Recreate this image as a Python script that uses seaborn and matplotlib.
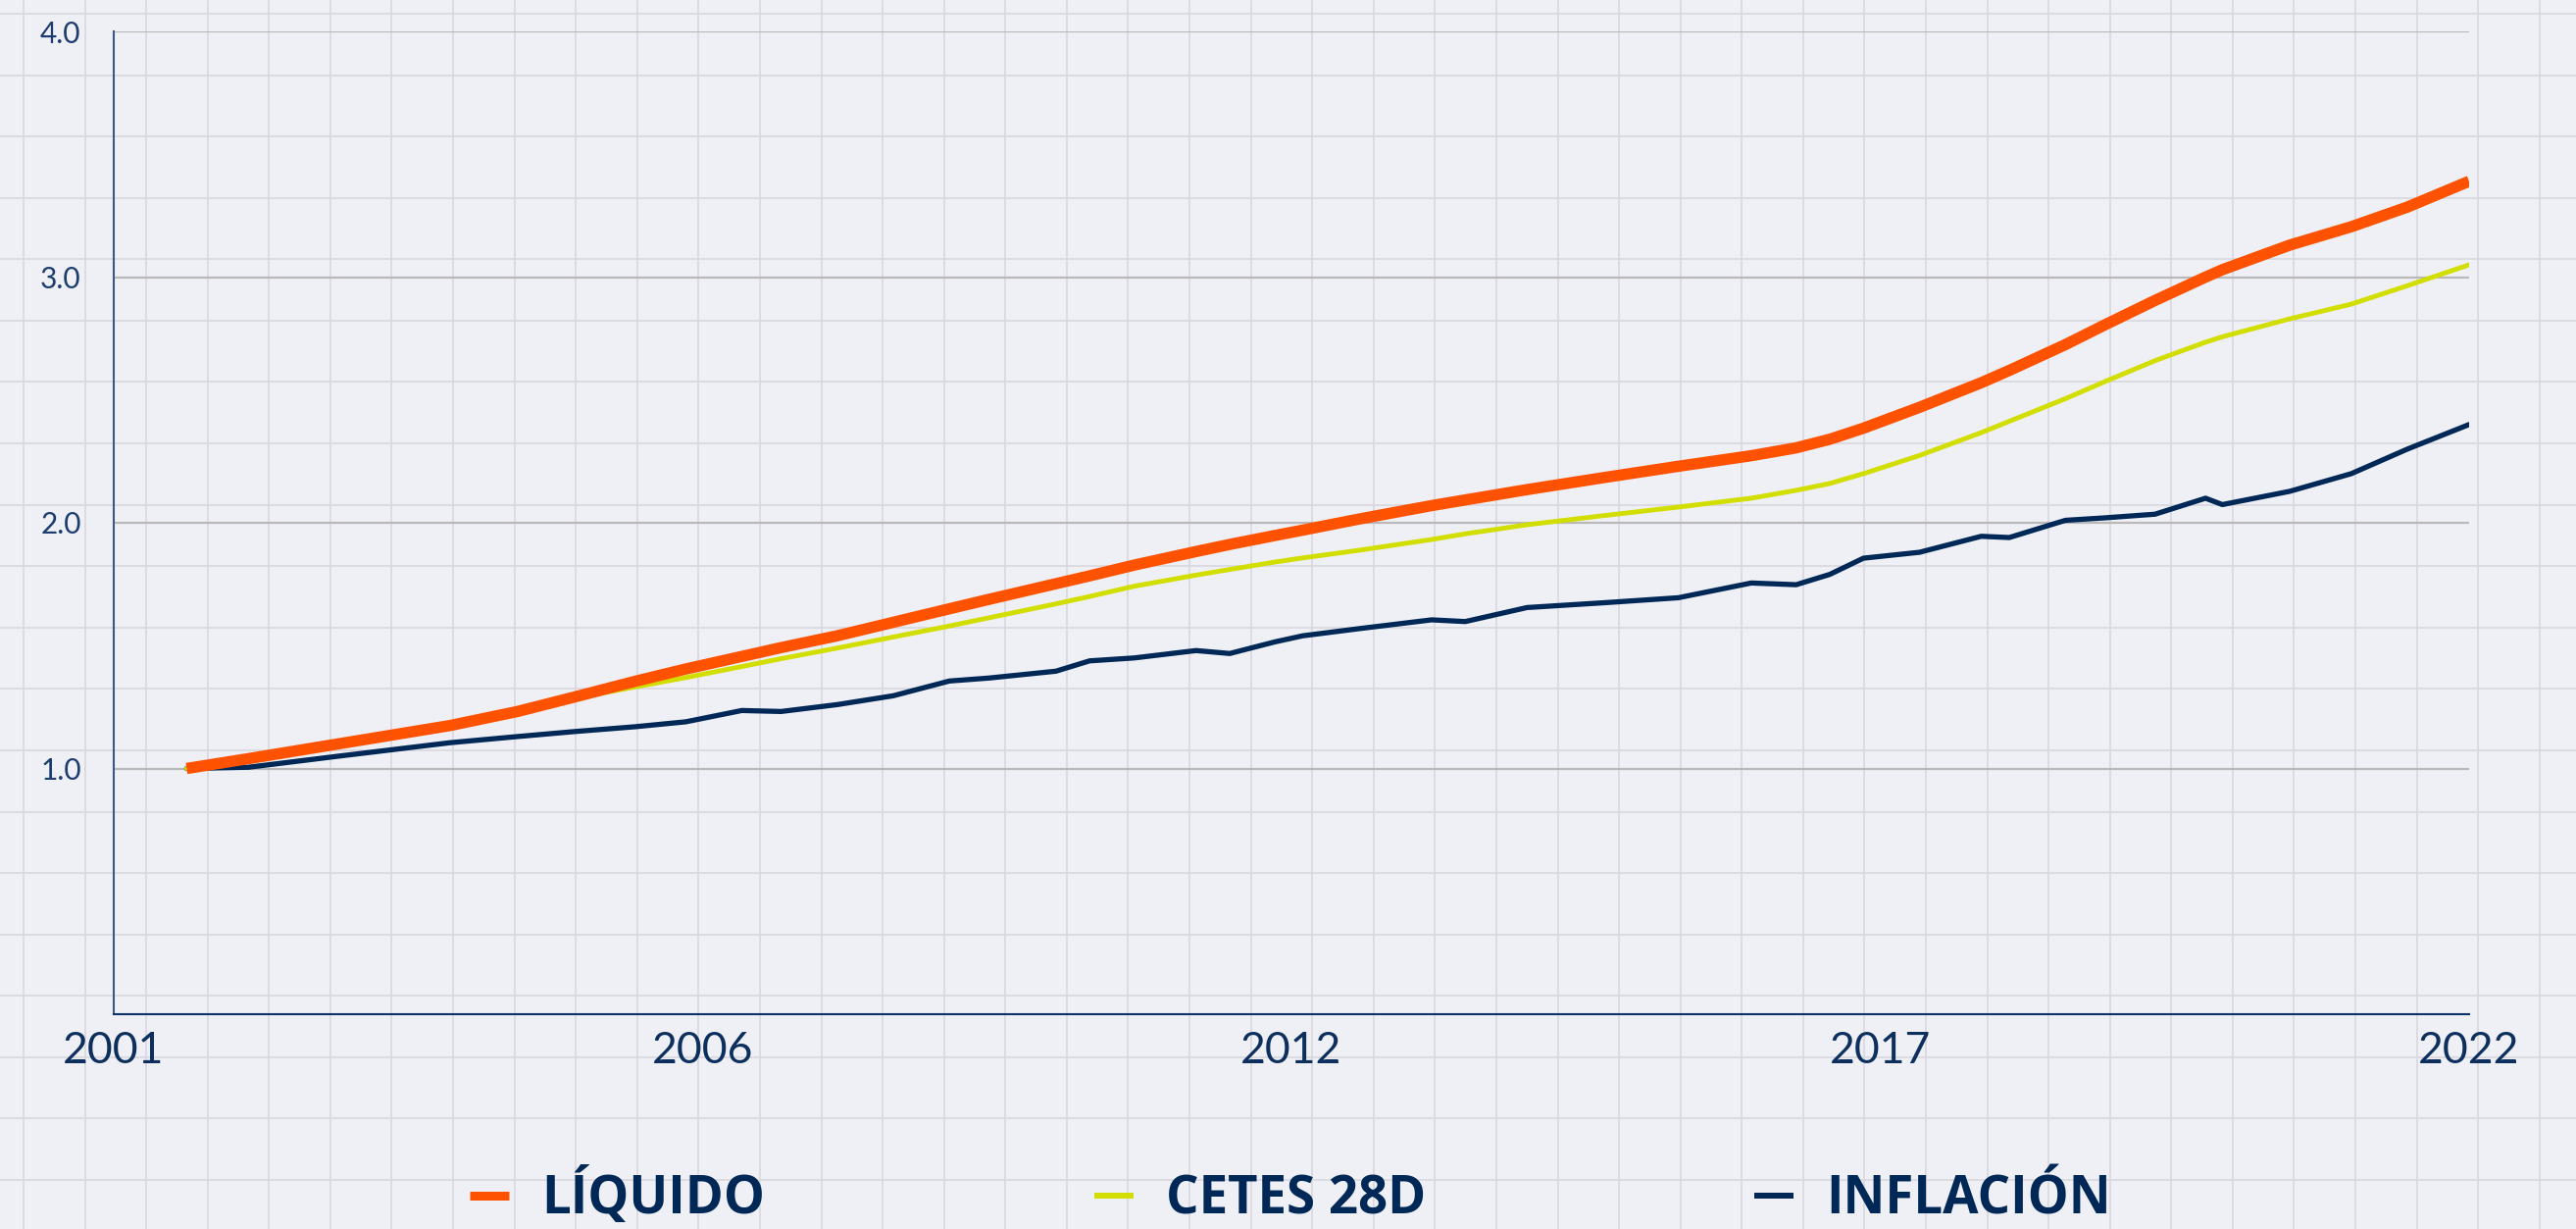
import numpy as np
import matplotlib
matplotlib.use("Agg")
import matplotlib.pyplot as plt
import seaborn as sns
from matplotlib.lines import Line2D

# ---------------- data ----------------
years = [2001.65, 2002.2, 2003.0, 2004.0, 2004.6, 2005.1, 2005.65, 2006.1, 2006.6, 2006.95,
         2007.45, 2007.95, 2008.45, 2008.8, 2009.4, 2009.7, 2010.1, 2010.65, 2010.95, 2011.35,
         2011.6, 2012.1, 2012.75, 2013.05, 2013.6, 2014.3, 2014.95, 2015.6, 2016.0, 2016.3,
         2016.6, 2017.1, 2017.65, 2017.9, 2018.4, 2018.75, 2019.2, 2019.65, 2019.8, 2020.4,
         2020.95, 2021.45, 2022.0]

liquido = [1.00, 1.04, 1.10, 1.175, 1.232, 1.29, 1.355, 1.405, 1.456, 1.492,
           1.54, 1.595, 1.65, 1.688, 1.752, 1.784, 1.828, 1.883, 1.912, 1.948,
           1.97, 2.015, 2.07, 2.093, 2.135, 2.185, 2.23, 2.273, 2.305, 2.34,
           2.385, 2.47, 2.57, 2.62, 2.725, 2.805, 2.905, 3.0, 3.03, 3.13,
           3.205, 3.285, 3.39]

cetes = [1.00, 1.04, 1.10, 1.175, 1.232, 1.285, 1.332, 1.37, 1.415, 1.447,
         1.49, 1.535, 1.58, 1.613, 1.67, 1.7, 1.742, 1.787, 1.81, 1.84,
         1.857, 1.888, 1.932, 1.955, 1.992, 2.03, 2.064, 2.10, 2.132, 2.16,
         2.20, 2.274, 2.367, 2.413, 2.505, 2.574, 2.66, 2.735, 2.757, 2.83,
         2.89, 2.965, 3.05]

inflacion = [1.00, 1.005, 1.05, 1.105, 1.13, 1.15, 1.17, 1.19, 1.236, 1.232,
             1.26, 1.296, 1.356, 1.368, 1.396, 1.438, 1.45, 1.48, 1.468, 1.515,
             1.54, 1.569, 1.605, 1.598, 1.655, 1.675, 1.695, 1.755, 1.748, 1.79,
             1.856, 1.88, 1.945, 1.94, 2.01, 2.02, 2.035, 2.10, 2.074, 2.128,
             2.20, 2.30, 2.40]

series_names = ["LÍQUIDO", "CETES 28D", "INFLACIÓN"]
x_tick_labels = ["2001", "2006", "2012", "2017", "2022"]
x_range = (2001, 2022)
y_tick_values = [1.0, 2.0, 3.0, 4.0]
y_range = (0.0, 4.0)

# ---------------- style ----------------
ORANGE = "#FF5200"
YELLOW = "#D2DE00"
NAVY = "#002856"
BG = "#EFF0F5"
TILE = "#D9D9DF"

sns.set_theme(style="white")
plt.rcParams["font.family"] = ["Lato", "DejaVu Sans"]

W, H, DPI = 2627, 1253, 100
fig = plt.figure(figsize=(W / DPI, H / DPI), dpi=DPI, facecolor=BG)

# decorative tiled background
bg = fig.add_axes([0, 0, 1, 1], zorder=0)
bg.set_xlim(0, W)
bg.set_ylim(H, 0)
bg.axis("off")
tile = 62.58
for xv in np.arange(24, W, tile):
    bg.axvline(xv, color=TILE, lw=1.3)
for yv in np.arange(14, H, tile):
    bg.axhline(yv, color=TILE, lw=1.3)

# main axes
ax = fig.add_axes([116 / W, 1 - 1034 / H, (2518 - 116) / W, (1034 - 32) / H], zorder=1)
ax.patch.set_alpha(0)

sns.lineplot(x=years, y=inflacion, ax=ax, color=NAVY, linewidth=3.8, zorder=3,
             solid_joinstyle="round")
sns.lineplot(x=years, y=cetes, ax=ax, color=YELLOW, linewidth=3.5, zorder=4,
             solid_joinstyle="round")
sns.lineplot(x=years, y=liquido, ax=ax, color=ORANGE, linewidth=8.3, zorder=5,
             solid_capstyle="butt", solid_joinstyle="round")

ax.set_xlim(*x_range)
ax.set_ylim(*y_range)
ax.set_xticks(np.linspace(x_range[0], x_range[1], len(x_tick_labels)))
ax.set_xticklabels(x_tick_labels)
ax.set_yticks(y_tick_values)
ax.set_yticklabels([f"{v:.1f}" for v in y_tick_values])
ax.set_xlabel("")
ax.set_ylabel("")

ax.yaxis.grid(True, color="#B9B9B9", linewidth=1.6)
ax.xaxis.grid(False)
ax.set_axisbelow(True)

for s in ("top", "right"):
    ax.spines[s].set_visible(False)
ax.spines["left"].set_color("#3A5882")
ax.spines["left"].set_linewidth(1.5)
ax.spines["bottom"].set_color("#0D3468")
ax.spines["bottom"].set_linewidth(1.5)

ax.tick_params(axis="x", length=0, pad=12, labelsize=32, labelcolor="#0D2F5E")
ax.tick_params(axis="y", length=0, pad=24, labelsize=21.5, labelcolor="#1C3D6E")

# legend
handles = [
    Line2D([], [], color=ORANGE, lw=6.5, solid_capstyle="butt"),
    Line2D([], [], color=YELLOW, lw=4.3, solid_capstyle="butt"),
    Line2D([], [], color=NAVY, lw=4.3, solid_capstyle="butt"),
]
fig.legend(handles, series_names, loc="lower center", bbox_to_anchor=(0.501, 0.0), ncol=3,
           frameon=False, borderpad=0.05, borderaxespad=0.0,
           prop=dict(family=["Open Sans", "DejaVu Sans"], weight="bold", size=38),
           labelcolor=NAVY, handlelength=0.76, handletextpad=0.63, columnspacing=6.35)

fig.savefig("out.png", dpi=DPI, facecolor=BG)
